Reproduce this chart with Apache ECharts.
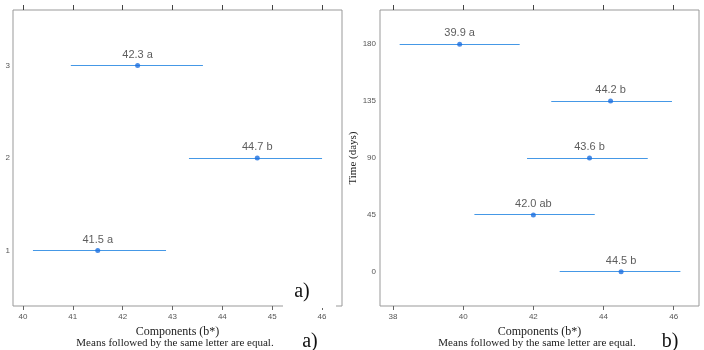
<!DOCTYPE html>
<html>
<head>
<meta charset="utf-8">
<script src="https://cdn.jsdelivr.net/npm/echarts@6/dist/echarts.min.js"></script>
<style>
  html, body { margin: 0; padding: 0; background: #fff; }
  #chart { width: 704px; height: 350px; }
</style>
</head>
<body>
<div id="chart"></div>
<script>
// panel a) - components by group
const groupsA = [1, 2, 3];
const meansA = [41.5, 44.7, 42.3];
const lowA = [40.2, 43.33, 40.96];
const highA = [42.87, 46.0, 43.61];
const lettersA = ['a', 'b', 'a'];
const ticksA = [40, 41, 42, 43, 44, 45, 46];

// panel b) - components by time (days)
const daysB = [0, 45, 90, 135, 180];
const meansB = [44.5, 42.0, 43.6, 44.2, 39.9];
const lowB = [42.75, 40.32, 41.82, 42.51, 38.19];
const highB = [46.19, 43.75, 45.26, 45.95, 41.61];
const lettersB = ['b', 'ab', 'b', 'b', 'a'];
const ticksB = [38, 40, 42, 44, 46];

const lineColor = '#4598e6';
const dotColor = '#1c6fe0';
const serif = '"Liberation Serif", "DejaVu Serif", serif';
const sans = '"Liberation Sans", Arial, sans-serif';

const chart = echarts.init(document.getElementById('chart'));

// x axis (bottom with labels + top with ticks only)
function xAxes(gridIndex, min, max, ticks) {
  return [
    {
      type: 'value', gridIndex, min, max, position: 'bottom',
      splitLine: { show: false },
      axisLine: { show: false, onZero: false },
      axisTick: { show: true, inside: false, length: 4, customValues: ticks, lineStyle: { color: '#666' } },
      axisLabel: { customValues: ticks, fontSize: 8, color: '#555', margin: 7, fontFamily: sans },
      name: 'Components (b*)', nameLocation: 'middle', nameGap: 17,
      nameTextStyle: { fontFamily: serif, fontSize: 12, color: '#222' }
    },
    {
      type: 'value', gridIndex, min, max, position: 'top',
      splitLine: { show: false },
      axisLine: { show: false, onZero: false },
      axisTick: { show: true, inside: false, length: 5, customValues: ticks, lineStyle: { color: '#444' } },
      axisLabel: { show: false }
    }
  ];
}

function intervals(low, high, ys, xIdx, yIdx) {
  return {
    type: 'custom', xAxisIndex: xIdx, yAxisIndex: yIdx,
    data: ys.map((y, i) => [low[i], high[i], y]),
    renderItem: (params, api) => {
      const a = api.coord([api.value(0), api.value(2)]);
      const b = api.coord([api.value(1), api.value(2)]);
      const y = Math.floor(a[1]) + 0.5;
      return {
        type: 'line',
        shape: { x1: a[0], y1: y, x2: b[0], y2: y },
        style: { stroke: lineColor, lineWidth: 1 }
      };
    },
    silent: true
  };
}

function dots(means, ys, letters, xIdx, yIdx) {
  return {
    type: 'scatter', xAxisIndex: xIdx, yAxisIndex: yIdx,
    data: ys.map((y, i) => [means[i], y, letters[i]]),
    symbolSize: 5,
    itemStyle: { color: dotColor },
    label: {
      show: true, position: 'top', distance: 3,
      formatter: p => p.value[0].toFixed(1) + ' ' + p.value[2],
      fontSize: 11, color: '#333', fontFamily: sans
    },
    z: 5
  };
}

const option = {
  animation: false,
  grid: [
    { left: 13, top: 10, width: 329, height: 296, show: true, borderColor: '#999', borderWidth: 1 },
    { left: 380, top: 10, width: 319, height: 296, show: true, borderColor: '#999', borderWidth: 1 }
  ],
  xAxis: [
    ...xAxes(0, 39.8, 46.4, ticksA),
    ...xAxes(1, 37.63, 46.72, ticksB)
  ],
  yAxis: [
    {
      type: 'value', gridIndex: 0, min: 0.4, max: 3.6,
      splitLine: { show: false }, axisLine: { show: false, onZero: false },
      axisTick: { show: false },
      axisLabel: { customValues: groupsA, fontSize: 8, color: '#555', margin: 3, fontFamily: sans }
    },
    {
      type: 'value', gridIndex: 1, min: -27, max: 207,
      splitLine: { show: false }, axisLine: { show: false, onZero: false },
      axisTick: { show: false },
      axisLabel: { customValues: daysB, fontSize: 8, color: '#555', margin: 4, fontFamily: sans },
      name: 'Time (days)', nameLocation: 'middle', nameGap: 17,
      nameTextStyle: { fontFamily: serif, fontSize: 11, color: '#222' }
    }
  ],
  series: [
    intervals(lowA, highA, groupsA, 0, 0),
    dots(meansA, groupsA, lettersA, 0, 0),
    intervals(lowB, highB, daysB, 2, 1),
    dots(meansB, daysB, lettersB, 2, 1)
  ],
  graphic: [
    {
      type: 'rect', shape: { x: 283, y: 276, width: 53, height: 32 },
      style: { fill: '#fff' }, z: 10
    },
    {
      type: 'text', x: 302, y: 292, z: 11,
      style: { text: 'a)', font: '20px ' + serif, fill: '#111', align: 'center', verticalAlign: 'middle' }
    },
    {
      type: 'text', x: 175, y: 343,
      style: { text: 'Means followed by the same letter are equal.', font: '11px ' + serif, fill: '#222', align: 'center', verticalAlign: 'middle' }
    },
    {
      type: 'text', x: 310, y: 342,
      style: { text: 'a)', font: '20px ' + serif, fill: '#111', align: 'center', verticalAlign: 'middle' }
    },
    {
      type: 'text', x: 537, y: 343,
      style: { text: 'Means followed by the same letter are equal.', font: '11px ' + serif, fill: '#222', align: 'center', verticalAlign: 'middle' }
    },
    {
      type: 'text', x: 670, y: 342,
      style: { text: 'b)', font: '20px ' + serif, fill: '#111', align: 'center', verticalAlign: 'middle' }
    }
  ]
};

chart.setOption(option);
</script>
</body>
</html>
